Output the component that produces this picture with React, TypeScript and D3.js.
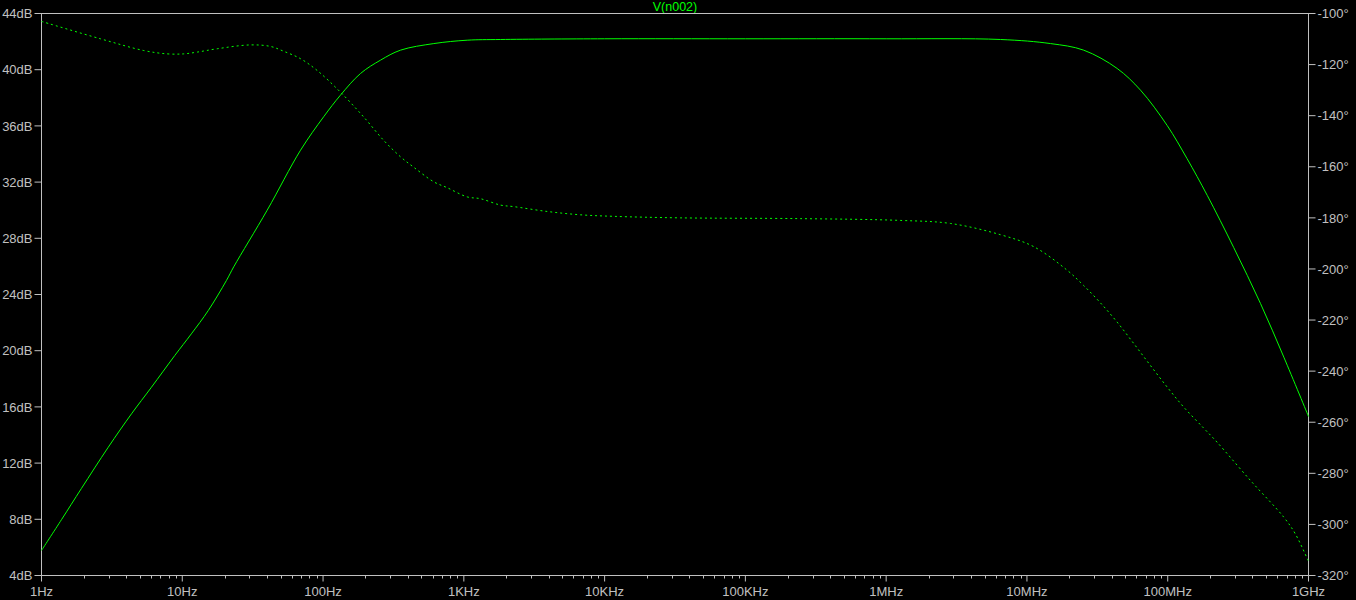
import React from "react";
import * as d3 from "d3";

// ---- data ----
const magFreq = [1, 1.39, 1.92, 2.98, 4.36, 6.04, 8.85, 11.6, 15.3, 20.6, 23.2, 40.1, 69.2, 101, 133, 184.5, 256, 355, 612, 1057, 1824, 10e3, 100e3, 1e6, 6.49e6, 14.7e6, 25.3e6, 43.7e6, 64.1e6, 99.1e6, 137e6, 191e6, 294e6, 456e6, 668e6, 1e9];
const magDb = [5.78, 7.99, 10.19, 13.13, 15.51, 17.4, 19.66, 21.2, 22.86, 25.0, 25.97, 30.0, 34.27, 36.65, 38.19, 39.73, 40.68, 41.39, 41.86, 42.1, 42.15, 42.2, 42.2, 42.2, 42.15, 41.86, 41.39, 40.09, 38.54, 36.03, 33.68, 31.05, 27.35, 23.36, 19.54, 15.32];

const phaseFreq = [1, 2.62, 5.33, 7.81, 10.25, 12.8, 17.7, 30.5, 42.4, 52.6, 69.2, 90.8, 133, 195, 270, 355, 441, 612, 762, 1057, 1313, 1822, 2265, 3909, 6745, 11.6e3, 34.6e3, 246e3, 1.26e6, 2.87e6, 6.49e6, 11.2e6, 19.3e6, 25.3e6, 33.3e6, 43.7e6, 57.4e6, 75.4e6, 99e6, 130e6, 180e6, 224e6, 387e6, 668e6, 808e6, 1e9];
const phaseDeg = [-103.1, -109.9, -114.5, -115.8, -115.8, -115.1, -113.8, -112.3, -112.9, -114.8, -117.7, -122.3, -130.8, -140.6, -149.7, -156.1, -160.2, -165.9, -168.2, -171.8, -172.5, -175.0, -175.6, -177.5, -178.8, -179.4, -180.0, -180.3, -181.0, -182.2, -186.6, -191.3, -200.5, -206.5, -213.3, -220.8, -229.2, -237.8, -246.2, -254.1, -262.3, -267.8, -282.8, -297.2, -303.8, -314.5];

const dbTicks = [4, 8, 12, 16, 20, 24, 28, 32, 36, 40, 44];
const degTicks = [-100, -120, -140, -160, -180, -200, -220, -240, -260, -280, -300, -320];
const freqTicks = [1, 10, 100, 1e3, 1e4, 1e5, 1e6, 1e7, 1e8, 1e9];
const freqLabels = ["1Hz", "10Hz", "100Hz", "1KHz", "10KHz", "100KHz", "1MHz", "10MHz", "100MHz", "1GHz"];
const title = "V(n002)";

// ---- layout ----
const W = 1356, H = 600;
const L = 41.5, R = 1308.5, T = 13.5, B = 575.5;
const GREEN = "#00ff00";
const GREY = "#c0c0c0";
const FONT = "'Liberation Sans', Arial, sans-serif";

export default function App() {
  const x = d3.scaleLog().domain([1, 1e9]).range([L, R]);
  const yL = d3.scaleLinear().domain([4, 44]).range([B, T]);
  const yR = d3.scaleLinear().domain([-320, -100]).range([B, T]);

  const magLine = d3
    .line<number>()
    .x((_, i) => x(magFreq[i]))
    .y((d) => yL(d))
    .curve(d3.curveCatmullRom.alpha(0.5));
  const phLine = d3
    .line<number>()
    .x((_, i) => x(phaseFreq[i]))
    .y((d) => yR(d))
    .curve(d3.curveCatmullRom.alpha(0.5));

  const minor: number[] = [];
  for (let dec = 0; dec < 9; dec++) {
    for (let k = 2; k <= 9; k++) minor.push(k * Math.pow(10, dec));
  }

  return (
    <svg
      width={W}
      height={H}
      style={{ position: "fixed", left: 0, top: 0, display: "block", background: "#000" }}
    >
      <rect x={0} y={0} width={W} height={H} fill="#000" />
      <text x={(L + R) / 2} y={10.5} fill={GREEN} fontFamily={FONT} fontSize={12.5} textAnchor="middle">
        {title}
      </text>
      {/* frame */}
      <rect x={L} y={T} width={R - L} height={B - T} fill="none" stroke={GREY} strokeWidth={1} />
      {/* left ticks */}
      {dbTicks.map((v) => (
        <g key={"l" + v}>
          <line x1={L - 7} x2={L} y1={yL(v)} y2={yL(v)} stroke={GREY} />
          <text x={L - 9} y={yL(v)} dy="0.36em" fill={GREY} fontFamily={FONT} fontSize={13} textAnchor="end">
            {v + "dB"}
          </text>
        </g>
      ))}
      {/* right ticks */}
      {degTicks.map((v) => (
        <g key={"r" + v}>
          <line x1={R} x2={R + 7} y1={yR(v)} y2={yR(v)} stroke={GREY} />
          <text x={R + 9} y={yR(v)} dy="0.36em" fill={GREY} fontFamily={FONT} fontSize={13} textAnchor="start">
            {v + "°"}
          </text>
        </g>
      ))}
      {/* bottom ticks */}
      {minor.map((f) => (
        <line key={"m" + f} x1={Math.round(x(f)) + 0.5} x2={Math.round(x(f)) + 0.5} y1={B} y2={B + 3} stroke={GREY} />
      ))}
      {freqTicks.map((f, i) => (
        <g key={"f" + f}>
          <line x1={x(f)} x2={x(f)} y1={B} y2={B + 6} stroke={GREY} />
          <text x={x(f)} y={596} fill={GREY} fontFamily={FONT} fontSize={13} textAnchor="middle">
            {freqLabels[i]}
          </text>
        </g>
      ))}
      {/* curves */}
      <path d={magLine(magDb) || ""} fill="none" stroke={GREEN} strokeWidth={1} />
      <path d={phLine(phaseDeg) || ""} fill="none" stroke={GREEN} strokeWidth={1} strokeDasharray="2 3" />
    </svg>
  );
}
